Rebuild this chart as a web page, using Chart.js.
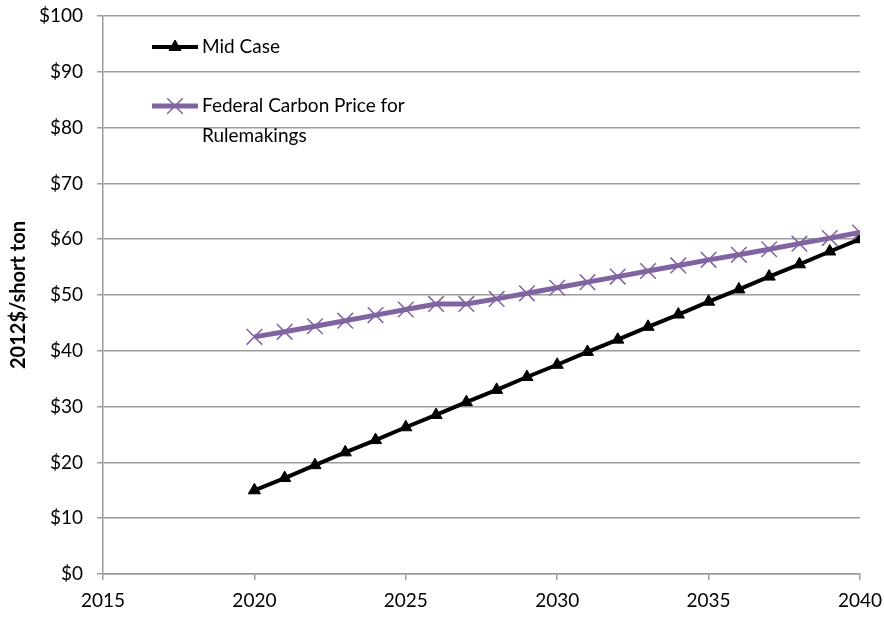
<!DOCTYPE html>
<html lang="en">
  <head>
    <meta charset="UTF-8" />
    <title>Carbon price</title>
    <style>
      html, body { margin: 0; padding: 0; background: #fff; }
      #chart { display: block; }
    </style>
  </head>
  <body>
    <canvas id="chart" width="884" height="618"></canvas>
    <script src="https://cdn.jsdelivr.net/npm/chart.js"></script>
    <script>
      const years = [2020, 2021, 2022, 2023, 2024, 2025, 2026, 2027, 2028, 2029, 2030,
        2031, 2032, 2033, 2034, 2035, 2036, 2037, 2038, 2039, 2040]
      const midCase = [15.0, 17.2, 19.5, 21.8, 24.0, 26.3, 28.5, 30.8, 33.0, 35.3, 37.5,
        39.8, 42.0, 44.3, 46.5, 48.8, 51.0, 53.3, 55.5, 57.8, 60.0]
      const federal = [42.5, 43.4, 44.4, 45.4, 46.4, 47.4, 48.4, 48.4, 49.3, 50.3, 51.3,
        52.3, 53.3, 54.3, 55.3, 56.3, 57.2, 58.2, 59.2, 60.2, 61.2]
      const seriesNames = ["Mid Case", ["Federal Carbon Price for", "Rulemakings"]]
      const yTitle = "2012$/short ton"

      const font = "Lato"
      const grey = "#9c9c9c"
      const purple = "#8064a2"

      // legend drawn inside the plot, Excel style
      const insideLegend = {
        id: "insideLegend",
        afterDraw(chart) {
          const ctx = chart.ctx
          const left = chart.chartArea.left
          const top = chart.chartArea.top
          const rows = [
            { ds: chart.data.datasets[0], text: seriesNames[0], y: top + 31 },
            { ds: chart.data.datasets[1], text: seriesNames[1], y: top + 90 },
          ]
          ctx.save()
          rows.forEach((r) => {
            const x0 = left + 49
            const x1 = left + 95
            ctx.strokeStyle = r.ds.borderColor
            ctx.lineWidth = r.ds.borderWidth
            ctx.beginPath()
            ctx.moveTo(x0, r.y)
            ctx.lineTo(x1, r.y)
            ctx.stroke()
            ctx.lineWidth = r.ds.pointBorderWidth
            ctx.strokeStyle = r.ds.pointBorderColor
            ctx.fillStyle = r.ds.pointBackgroundColor || r.ds.pointBorderColor
            Chart.helpers.drawPoint(ctx, {
              pointStyle: r.ds.pointStyle,
              radius: r.ds.pointRadius,
              borderWidth: r.ds.pointBorderWidth,
              rotation: 0,
            }, (x0 + x1) / 2, r.y)
            ctx.fillStyle = "#000"
            ctx.font = "19px " + font
            ctx.textBaseline = "middle"
            const lines = Array.isArray(r.text) ? r.text : [r.text]
            lines.forEach((t, i) => ctx.fillText(t, x1 + 4, r.y + i * 30))
          })
          ctx.restore()
        },
      }

      new Chart(document.getElementById("chart").getContext("2d"), {
        type: "line",
        data: {
          datasets: [
            {
              label: "Mid Case",
              data: years.map((yr, i) => ({ x: yr, y: midCase[i] })),
              borderColor: "#000",
              backgroundColor: "#000",
              borderWidth: 4,
              pointStyle: "triangle",
              pointRadius: 7,
              pointBorderWidth: 1,
              pointBackgroundColor: "#000",
              pointBorderColor: "#000",
              order: 2,
            },
            {
              label: "Federal Carbon Price for Rulemakings",
              data: years.map((yr, i) => ({ x: yr, y: federal[i] })),
              borderColor: purple,
              backgroundColor: purple,
              borderWidth: 5,
              pointStyle: "crossRot",
              pointRadius: 11,
              pointBorderWidth: 1.5,
              pointBorderColor: purple,
              order: 1,
            },
          ],
        },
        options: {
          responsive: false,
          animation: false,
          layout: { padding: { top: 16, right: 24, left: 0, bottom: 0 } },
          plugins: {
            legend: { display: false },
            tooltip: { enabled: false },
          },
          scales: {
            x: {
              type: "linear",
              min: 2015,
              max: 2040,
              afterFit: (s) => {
                s.height = 44
                s.paddingLeft = 0
                s.paddingRight = 0
              },
              border: { display: true, color: grey, width: 1.5 },
              grid: { drawOnChartArea: false, drawTicks: true, tickLength: 6, color: grey, lineWidth: 1.5 },
              ticks: {
                stepSize: 5,
                padding: 9,
                color: "#000",
                font: { family: font, size: 19 },
                callback: (v) => String(v),
                maxRotation: 0,
              },
            },
            y: {
              min: 0,
              max: 100,
              afterFit: (s) => {
                s.width = 103
                s.paddingTop = 0
                s.paddingBottom = 0
              },
              border: { display: true, color: grey, width: 1.5 },
              grid: { color: grey, lineWidth: 1.5, tickLength: 6 },
              ticks: {
                stepSize: 10,
                padding: 14,
                color: "#000",
                font: { family: font, size: 19 },
                callback: (v) => "$" + v,
              },
              title: {
                display: true,
                text: yTitle,
                color: "#000",
                font: { family: font, size: 20, weight: "bold" },
                padding: { top: 7, bottom: 0 },
              },
            },
          },
        },
        plugins: [insideLegend],
      })
    </script>
  </body>
</html>
